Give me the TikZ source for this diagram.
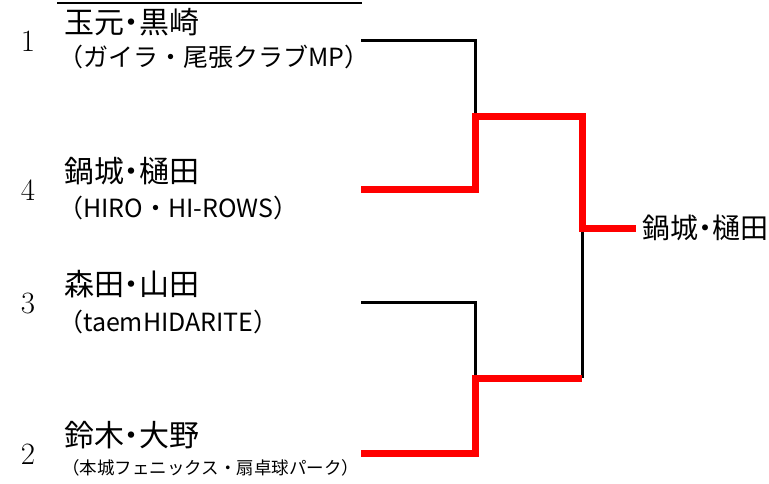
\documentclass[tikz,border=0pt]{standalone}
\usepackage{fontspec}
\newfontfamily\jpfont{Noto Sans CJK JP}
\newfontfamily\jppfont[RawFeature=+palt]{Noto Sans CJK JP}
\begin{document}
\begin{tikzpicture}
[x=1pt,y=-1pt,
  seeddecorate/.style={inner sep=0pt,font=\fontsize{31}{31}\selectfont},
  namedecorate/.style={anchor=west,inner sep=0pt,font=\jppfont\fontsize{30}{30}\selectfont},
  teamdecorate/.style={anchor=west,inner sep=0pt,font=\jpfont\fontsize{25}{25}\selectfont},
  losedecorate/.style={-,line width=3pt,black},
  windecorate/.style={-,line width=7pt,red}]
\useasboundingbox (0,0) rectangle (769,483);
%% top rule
\coordinate (topl) at (57,3);
\coordinate (topr) at (362,3);
\draw[line width=2pt] (topl) -- (topr);
%% players
\foreach \nodename/\seed/\y/\name in {p1/1/40/玉元・黒崎, p4/4/189/鍋城・樋田,
  p3/3/302/森田・山田, p2/2/453/鈴木・大野}
{
  \node (\nodename s) at (28,\y+1) [seeddecorate] {\seed};
  \node (\nodename n) at (64,\y-18) [namedecorate] {\name};
  \coordinate (\nodename e) at (361,\y);
  \coordinate (\nodename j) at (475,\y);
}
\foreach \nodename/\y/\team in {p1/57/（ガイラ・尾張クラブMP）,
  p4/208/（HIRO・HI-ROWS）, p3/322/（taemHIDARITE）}
{
  \node (\nodename t) at (58,\y) [teamdecorate] {\team};
}
\node (p2t) at (62,468) [teamdecorate,font=\jpfont\fontsize{17.5}{17.5}\selectfont]
  {（本城フェニックス・扇卓球パーク）};
%% rounds
\coordinate (m1) at (475,116);
\coordinate (m1r) at (582,116);
\coordinate (m2) at (475,378);
\coordinate (m2r) at (582,378);
\coordinate (fin) at (582,228);
\coordinate (fine) at (636,228);
\node (champ) at (642,228) [namedecorate,font=\jppfont\fontsize{28}{28}\selectfont] {鍋城・樋田};
%% lines
\draw[losedecorate] (p1e) -- (p1j) -- (m1);
\draw[losedecorate] (p3e) -- (p3j) -- (m2);
\draw[losedecorate] (m2r) -- (fin);
\draw[windecorate] (p4e) -- (p4j) -- (m1) -- (m1r) -- (fin) -- (fine);
\draw[windecorate] (p2e) -- (p2j) -- (m2) -- (m2r);
\end{tikzpicture}
\end{document}
